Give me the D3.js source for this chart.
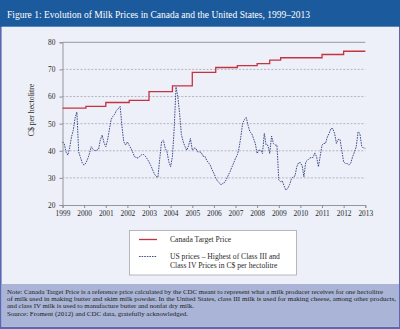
<!DOCTYPE html>
<html><head><meta charset="utf-8">
<script src="https://cdn.jsdelivr.net/npm/d3@7"></script>
<style>
html,body{margin:0;padding:0;background:#fff;}
svg{display:block;font-family:"Liberation Serif","Times New Roman",serif;}
</style></head><body>
<svg id="chart" width="400" height="329"></svg>
<script>
// ---- data ----
const title = "Figure 1: Evolution of Milk Prices in Canada and the United States, 1999\u20132013";
const yearTicks = [1999,2000,2001,2002,2003,2004,2005,2006,2007,2008,2009,2010,2011,2012,2013];
const valueTicks = [20,30,40,50,60,70,80];

// Canada target price (C$/hl), step changes
const canadaDates = ["1999-01","2000-02","2001-01","2002-02","2003-01","2004-02","2005-01","2006-02","2007-02","2008-01","2008-08","2009-02","2011-01","2012-01","2013-01"];
const canadaPrice = [55.7,56.4,57.8,58.6,61.8,63.9,68.9,70.7,71.4,72.1,73.4,74.3,75.5,76.7,76.7];

// US prices, monthly from January 1999 to January 2013 (C$/hl)
const usStart = "1999-01";
const usPrice = [
  43.3,42.5,39.5,38.4,41.0,45.0,47.5,52.0,54.3,39.6,37.5,35.5,
  34.7,35.5,37.0,39.0,41.5,40.5,40.0,40.2,40.5,44.0,45.8,43.0,
  41.5,44.0,47.6,51.5,52.7,53.5,54.9,55.5,56.4,49.0,43.3,42.1,
  43.3,42.0,40.9,39.5,37.8,37.5,37.3,38.0,38.6,38.6,38.0,37.0,
  35.9,34.5,33.1,31.5,30.5,30.2,37.0,43.3,43.9,41.0,39.6,36.0,
  34.1,38.0,48.0,63.5,60.0,53.7,46.0,43.3,41.5,40.2,42.0,44.5,
  40.2,41.0,40.9,39.6,39.6,39.4,38.0,38.0,36.5,35.6,34.7,33.0,
  31.7,30.0,28.9,28.2,27.4,28.0,28.3,29.5,31.0,32.3,34.0,35.5,
  37.2,38.5,40.9,45.1,50.1,51.5,52.3,49.4,47.0,46.4,44.5,42.7,
  39.0,40.2,40.2,39.0,46.4,42.1,42.0,39.0,45.4,42.7,42.1,42.1,
  29.2,28.6,28.9,27.0,25.5,26.1,27.5,29.5,30.4,30.7,34.1,35.6,
  35.6,34.4,30.4,35.9,36.5,37.2,37.5,37.5,39.2,37.8,34.1,38.0,
  42.1,42.7,42.7,45.1,46.4,48.2,48.2,46.4,42.7,44.2,44.2,40.2,
  35.9,35.3,35.3,34.7,35.5,37.8,39.5,41.5,47.0,46.4,41.7,41.0,
  40.9
];

const yLabel = "C$ per hectolitre";
const legendLabels = [["Canada Target Price"],["US prices \u2013 Highest of Class III and","Class IV Prices in C$ per hectolitre"]];
const noteLines = [
  "Note: Canada Target Price is a reference price calculated by the CDC meant to represent what a milk producer receives for one hectolitre",
  "of milk used in making butter and skim milk powder. In the United States, class III milk is used for making cheese, among other products,",
  "and class IV milk is used to manufacture butter and nonfat dry milk."
];
const sourceLine = "Source: Froment (2012) and CDC data, gratefully acknowledged.";

// ---- drawing ----
const W = 400, H = 329;
const svg = d3.select("#chart");
const parseMonth = d3.timeParse("%Y-%m");

// frame, header and note panel
svg.append("rect").attr("width", W).attr("height", H).attr("fill", "#5a68b4");
svg.append("rect").attr("x", 1.6).attr("y", 0).attr("width", W - 2.6).attr("height", H - 2.2).attr("fill", "#edf0f8");
svg.append("rect").attr("x", 0).attr("y", 0).attr("width", W).attr("height", 26.7).attr("fill", "#1b5a9c");
svg.append("rect").attr("x", 1.6).attr("y", 284).attr("width", W - 2.6).attr("height", H - 2.2 - 284).attr("fill", "#a9b4d6");

function fitText(sel, width) {
  sel.attr("textLength", width).attr("lengthAdjust", "spacingAndGlyphs");
  return sel;
}

fitText(svg.append("text").attr("x", 7).attr("y", 18.3).attr("fill", "#fff")
  .attr("font-size", 10.6).text(title), 303);

// scales
const x = d3.scaleTime()
  .domain([new Date(yearTicks[0], 0, 1), new Date(yearTicks[yearTicks.length - 1], 0, 1)])
  .range([62.5, 365.3]);
const y = d3.scaleLinear().domain([20, 80]).range([205, 42.3]);

// grid
const grid = svg.append("g");
grid.selectAll("line.g").data(valueTicks.filter(v => v > 20 && v < 80)).join("line")
  .attr("x1", x.range()[0]).attr("x2", x.range()[1])
  .attr("y1", d => y(d)).attr("y2", d => y(d))
  .attr("stroke", "#9a9ca8").attr("stroke-width", 0.7).attr("stroke-dasharray", "2,1.6");
grid.append("line")
  .attr("x1", x.range()[0]).attr("x2", x.range()[1])
  .attr("y1", y(80)).attr("y2", y(80))
  .attr("stroke", "#a7a9b3").attr("stroke-width", 1.3);

// axes
const xAxis = d3.axisBottom(x)
  .tickValues(yearTicks.map(yr => new Date(yr, 0, 1)))
  .tickFormat(d3.timeFormat("%Y")).tickSize(3).tickPadding(2.5);
const gx = svg.append("g").attr("transform", `translate(0,${y(20)})`).call(xAxis);
gx.select(".domain").attr("stroke", "#8a8c96").attr("stroke-width", 0.9);
gx.selectAll(".tick line").attr("stroke", "#8a8c96");
gx.selectAll("text").attr("font-size", 7.4).attr("fill", "#2a2a2a").attr("font-family", "Liberation Serif, serif");

const yAxis = d3.axisLeft(y).tickValues(valueTicks).tickSize(3).tickPadding(4);
const gy = svg.append("g").attr("transform", `translate(${x.range()[0]},0)`).call(yAxis);
gy.select(".domain").attr("stroke", "#8a8c96").attr("stroke-width", 0.9);
gy.selectAll(".tick line").attr("stroke", "#8a8c96");
gy.selectAll("text").attr("font-size", 7.4).attr("fill", "#2a2a2a").attr("font-family", "Liberation Serif, serif");

svg.append("text")
  .attr("transform", `translate(34,${110}) rotate(-90)`)
  .attr("text-anchor", "middle").attr("font-size", 7.8).attr("fill", "#2a2a2a")
  .text(yLabel);

// series
const canada = canadaDates.map((d, i) => ({ date: parseMonth(d), v: canadaPrice[i] }));
const t0 = parseMonth(usStart);
const us = usPrice.map((v, i) => ({ date: d3.timeMonth.offset(t0, i), v }));

svg.append("path").datum(canada)
  .attr("fill", "none").attr("stroke", "#c7323f").attr("stroke-width", 1.3)
  .attr("d", d3.line().x(d => x(d.date)).y(d => y(d.v)).curve(d3.curveStepAfter));

svg.append("path").datum(us)
  .attr("fill", "none").attr("stroke", "#2c3a7e").attr("stroke-width", 0.9)
  .attr("stroke-dasharray", "1.6,1")
  .attr("d", d3.line().x(d => x(d.date)).y(d => y(d.v)));

// legend
const lg = svg.append("g");
lg.append("rect").attr("x", 129.5).attr("y", 230.5).attr("width", 167).attr("height", 44.5)
  .attr("fill", "#fff").attr("stroke", "#a5a7b0").attr("stroke-width", 0.8);
lg.append("line").attr("x1", 139).attr("x2", 157).attr("y1", 239.5).attr("y2", 239.5)
  .attr("stroke", "#c7323f").attr("stroke-width", 1.3);
lg.append("line").attr("x1", 139).attr("x2", 157).attr("y1", 256.5).attr("y2", 256.5)
  .attr("stroke", "#2c3a7e").attr("stroke-width", 0.9).attr("stroke-dasharray", "1.6,1");
lg.append("text").attr("x", 170).attr("y", 242.3).attr("font-size", 7.6).attr("fill", "#2a2a2a").text(legendLabels[0][0]);
legendLabels[1].forEach((s, i) => {
  lg.append("text").attr("x", 170).attr("y", 259.3 + i * 8.8).attr("font-size", 7.6).attr("fill", "#2a2a2a").text(s);
});

// note
const noteWidths = [376, 389, 187];
noteLines.forEach((s, i) => {
  fitText(svg.append("text").attr("x", 7).attr("y", 294.3 + i * 6.6)
    .attr("font-size", 6.3).attr("fill", "#222").text(s), noteWidths[i]);
});
fitText(svg.append("text").attr("x", 7).attr("y", 315.8)
  .attr("font-size", 6.3).attr("fill", "#222").text(sourceLine), 181);
</script>
</body></html>
